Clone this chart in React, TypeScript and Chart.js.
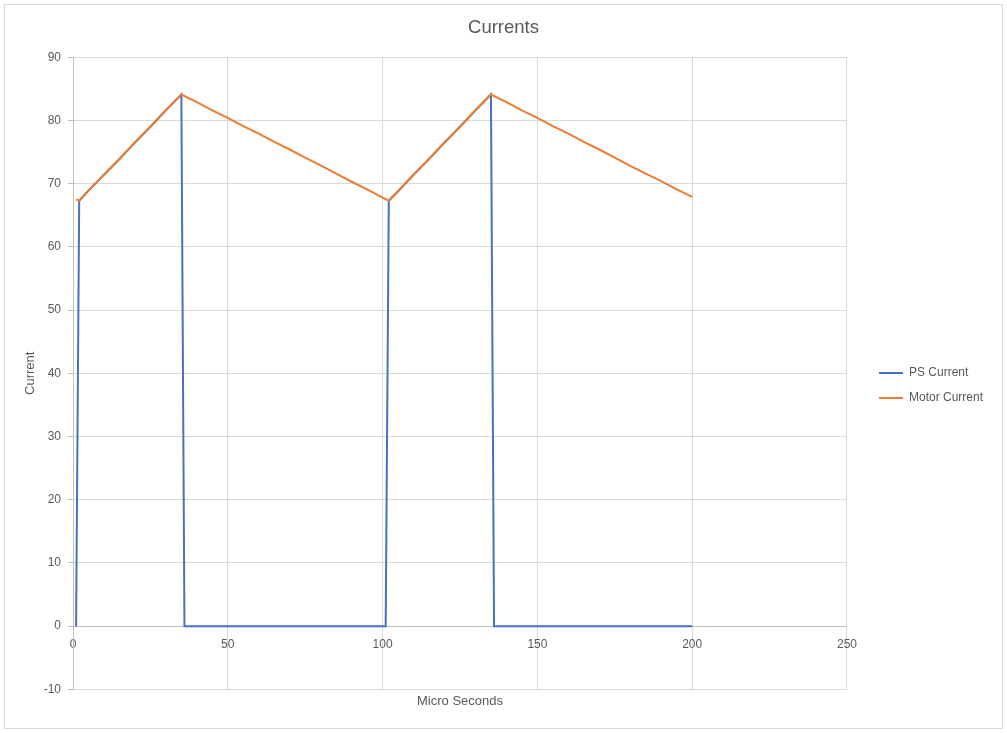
import React, { useEffect, useRef } from "react";
import { Chart, registerables } from "chart.js";

Chart.register(...registerables);

const chartTitle = "Currents";
const xAxisTitle = "Micro Seconds";
const yAxisTitle = "Current";

const psLabel = "PS Current";
const motorLabel = "Motor Current";

const psTime = [1, 2, 5, 10, 15, 20, 25, 30, 35, 36, 101, 102, 105, 110, 115, 120, 125, 130, 135, 136, 200];
const psValues = [0, 67.3, 68.9, 71.4, 73.9, 76.5, 79.0, 81.6, 84.1, 0, 0, 67.3, 68.8, 71.4, 73.9, 76.5, 79.0, 81.6, 84.1, 0, 0];

const motorTime = [
  1, 2, 5, 10, 15, 20, 25, 30, 35, 40, 45, 50, 55, 60, 65, 70, 75, 80, 85, 90, 95, 100, 102,
  105, 110, 115, 120, 125, 130, 135, 140, 145, 150, 155, 160, 165, 170, 175, 180, 185, 190, 195, 200,
];
const motorValues = [
  67.5, 67.3, 68.9, 71.4, 73.9, 76.5, 79.0, 81.6, 84.1, 82.9, 81.6, 80.4, 79.1, 77.9, 76.6, 75.4, 74.1, 72.9, 71.6, 70.3, 69.1, 67.8, 67.3,
  68.8, 71.4, 73.9, 76.5, 79.0, 81.6, 84.1, 82.9, 81.6, 80.4, 79.1, 77.9, 76.6, 75.4, 74.1, 72.8, 71.6, 70.4, 69.1, 67.9,
];

const xMin = 0;
const xMax = 250;
const xStep = 50;
const yMin = -10;
const yMax = 90;
const yStep = 10;

const TEXT = "#595959";
const GRID = "#d9d9d9";
const AXIS = "#bfbfbf";
const BLUE = "#4472C4";
const ORANGE = "#ED7D31";

Chart.defaults.font.family = "'Liberation Sans', Arial, sans-serif";

const bgPlugin = {
  id: "bgPlugin",
  beforeDraw(chart: any) {
    const c = chart.ctx;
    c.save();
    c.fillStyle = "#ffffff";
    c.fillRect(0, 0, chart.width, chart.height);
    c.strokeStyle = GRID;
    c.lineWidth = 1;
    c.strokeRect(4.5, 4.5, 998, 724);
    c.restore();
  },
};

export default function App() {
  const ref = useRef<HTMLCanvasElement>(null);

  useEffect(() => {
    const chart = new Chart(ref.current as HTMLCanvasElement, {
      type: "line",
      data: {
        datasets: [
          {
            label: psLabel,
            data: psTime.map((t, i) => ({ x: t, y: psValues[i] })),
            borderColor: BLUE,
            backgroundColor: BLUE,
            borderWidth: 2,
            pointRadius: 0,
            tension: 0,
            fill: false,
            order: 1,
          },
          {
            label: motorLabel,
            data: motorTime.map((t, i) => ({ x: t, y: motorValues[i] })),
            borderColor: ORANGE,
            backgroundColor: ORANGE,
            borderWidth: 2,
            pointRadius: 0,
            tension: 0,
            fill: false,
            order: 0,
          },
        ],
      },
      options: {
        animation: false,
        responsive: false,
        devicePixelRatio: 1,
        layout: { padding: { left: 14, right: 14, top: 0, bottom: 0 } },
        plugins: {
          title: {
            display: true,
            text: chartTitle,
            color: TEXT,
            font: { size: 18.5, weight: "normal" },
            padding: { top: 17, bottom: 18 },
          },
          legend: {
            position: "right",
            title: { display: true, text: " ", font: { size: 10 }, padding: 13 },
            labels: {
              usePointStyle: true,
              pointStyle: "line",
              pointStyleWidth: 24,
              color: TEXT,
              font: { size: 12 },
              padding: 13,
              sort: (a: any, b: any) => a.datasetIndex - b.datasetIndex,
            },
          },
          tooltip: { enabled: false },
        },
        scales: {
          x: {
            type: "linear",
            min: xMin,
            max: xMax,
            position: { y: 0 } as any,
            ticks: { stepSize: xStep, color: TEXT, font: { size: 12 }, padding: 11 },
            grid: { color: GRID, drawTicks: false },
            border: { color: AXIS },
          },
          xTitle: {
            type: "linear",
            position: "bottom",
            min: xMin,
            max: xMax,
            grid: { display: false, drawTicks: false },
            border: { display: false },
            ticks: { display: false },
            title: {
              display: true,
              text: xAxisTitle,
              color: TEXT,
              font: { size: 13 },
              padding: { top: 4, bottom: 24 },
            },
          },
          y: {
            type: "linear",
            position: "left",
            min: yMin,
            max: yMax,
            ticks: { stepSize: yStep, color: TEXT, font: { size: 12 }, padding: 7 },
            grid: { color: GRID, tickLength: 5, tickColor: AXIS },
            border: { color: AXIS },
            title: {
              display: true,
              text: yAxisTitle,
              color: TEXT,
              font: { size: 13 },
              padding: { top: 9, bottom: 0 },
            },
            afterFit: (s: any) => {
              s.width = 59;
            },
          },
          ySpacer: {
            type: "linear",
            position: "right",
            min: 0,
            max: 1,
            grid: { display: false, drawTicks: false },
            border: { display: false },
            ticks: { display: false },
            afterFit: (s: any) => {
              s.width = 19;
            },
          },
        },
      } as any,
      plugins: [bgPlugin],
    });
    return () => chart.destroy();
  }, []);

  return (
    <div style={{ position: "fixed", left: 0, top: 0, width: 1007, height: 733, background: "#fff" }}>
      <canvas ref={ref} width={1007} height={733} style={{ display: "block" }} />
    </div>
  );
}
